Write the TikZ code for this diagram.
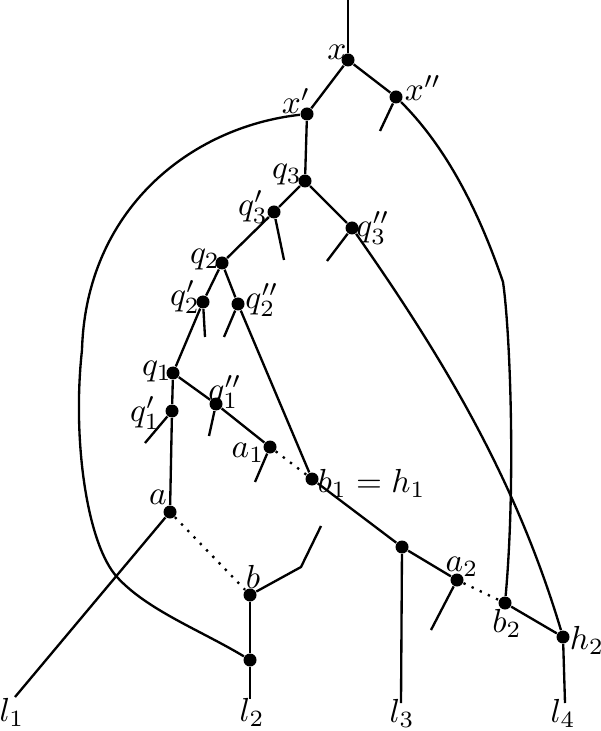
\documentclass[tikz,border=0pt]{standalone}
\begin{document}
\begin{tikzpicture}[x=0.3pt,y=-0.3pt,
  vtx/.style={circle,fill=black,inner sep=0pt,minimum size=3.9pt},
  edge/.style={line width=0.7pt},
  dotedge/.style={line width=0.7pt,dotted},
  lbl/.style={inner sep=0pt}]
\useasboundingbox (0,0) rectangle (600,731);
% vertices
\node[vtx] (x) at (348,60) {};
\node[vtx] (xp) at (307,114) {};
\node[vtx] (xpp) at (396,97) {};
\node[vtx] (q3) at (305,181) {};
\node[vtx] (q3p) at (274,212) {};
\node[vtx] (q3pp) at (352,228) {};
\node[vtx] (q2) at (222,263) {};
\node[vtx] (q2p) at (203,302) {};
\node[vtx] (q2pp) at (238,304) {};
\node[vtx] (q1) at (173,373) {};
\node[vtx] (q1p) at (172,411) {};
\node[vtx] (q1pp) at (216,404) {};
\node[vtx] (a1) at (270,447) {};
\node[vtx] (a) at (170,512) {};
\node[vtx] (b1) at (312,479) {};
\node[vtx] (b) at (250,595) {};
\node[vtx] (c) at (250,660) {};
\node[vtx] (d) at (402,547) {};
\node[vtx] (a2) at (457,580) {};
\node[vtx] (b2) at (505,603) {};
\node[vtx] (h2) at (563,637) {};
% free ends
\coordinate (top) at (348,0);
\coordinate (xppS) at (380,131);
\coordinate (q3pS) at (284,260);
\coordinate (q3ppS) at (327,261);
\coordinate (q2pS) at (205,337);
\coordinate (q2ppS) at (224,337);
\coordinate (q1pS) at (145,443);
\coordinate (q1ppS) at (209,436);
\coordinate (a1S) at (255,482);
\coordinate (a2S) at (431,630);
\coordinate (bK) at (301,567);
\coordinate (bS) at (321,526);
\coordinate (l1e) at (15,697);
\coordinate (l2e) at (250,699);
\coordinate (l3e) at (401,703);
\coordinate (l4e) at (565,703);
\coordinate (k1) at (503,282);
\coordinate (m1) at (82,350);
\coordinate (m2) at (117,577);
% edges
\draw[edge] (top) -- (x);
\draw[edge] (x) -- (xp);
\draw[edge] (x) -- (xpp);
\draw[edge] (xpp) -- (xppS);
\draw[edge] (xpp) .. controls (441,142) and (475,200) .. (k1)
                  .. controls (510,330) and (516,480) .. (b2);
\draw[edge] (xp) -- (q3);
\draw[edge] (q3) -- (q3p);
\draw[edge] (q3) -- (q3pp);
\draw[edge] (q3p) -- (q3pS);
\draw[edge] (q3pp) -- (q3ppS);
\draw[edge] (q3pp) .. controls (451,369) and (518,487) .. (h2);
\draw[edge] (q3p) -- (q2);
\draw[edge] (q2) -- (q2p);
\draw[edge] (q2) -- (q2pp);
\draw[edge] (q2p) -- (q2pS);
\draw[edge] (q2pp) -- (q2ppS);
\draw[edge] (q2p) -- (q1);
\draw[edge] (q2pp) -- (b1);
\draw[edge] (q1) -- (q1p);
\draw[edge] (q1) -- (q1pp);
\draw[edge] (q1p) -- (q1pS);
\draw[edge] (q1pp) -- (q1ppS);
\draw[edge] (q1pp) -- (a1);
\draw[edge] (a1) -- (a1S);
\draw[dotedge] (a1) -- (b1);
\draw[edge] (q1p) -- (a);
\draw[edge] (a) -- (l1e);
\draw[dotedge] (a) -- (b);
\draw[edge] (b) -- (bK) -- (bS);
\draw[edge] (b) -- (c);
\draw[edge] (c) -- (l2e);
\draw[edge] (b1) -- (d);
\draw[edge] (d) -- (l3e);
\draw[edge] (d) -- (a2);
\draw[edge] (a2) -- (a2S);
\draw[dotedge] (a2) -- (b2);
\draw[edge] (b2) -- (h2);
\draw[edge] (h2) -- (l4e);
\draw[edge] (xp) .. controls (190,127) and (86,210) .. (m1)
                 .. controls (72,440) and (87,544) .. (m2)
                 .. controls (147,610) and (200,630) .. (c);
% labels
\node[lbl] (Lx) at (337,52) {$x$};
\node[lbl] (Lxp) at (296,101) {$x'$};
\node[lbl] (Lxpp) at (423,88) {$x''$};
\node[lbl] (Lq3) at (287,175) {$q_3$};
\node[lbl] (Lq3p) at (253,207) {$q_3'$};
\node[lbl] (Lq3pp) at (373,228) {$q_3''$};
\node[lbl] (Lq2) at (205,260) {$q_2$};
\node[lbl] (Lq2p) at (185,297) {$q_2'$};
\node[lbl] (Lq2pp) at (262,300) {$q_2''$};
\node[lbl] (Lq1) at (157,372) {$q_1$};
\node[lbl] (Lq1p) at (145,413) {$q_1'$};
\node[lbl] (Lq1pp) at (225,392) {$q_1''$};
\node[lbl] (La1) at (248,453) {$a_1$};
\node[lbl] (La) at (158,497) {$a$};
\node[lbl] (Lb) at (253,577) {$b$};
\node[lbl,anchor=west] (Lb1) at (317,483) {$b_1=h_1$};
\node[lbl] (La2) at (462,567) {$a_2$};
\node[lbl] (Lb2) at (507,623) {$b_2$};
\node[lbl] (Lh2) at (587,640) {$h_2$};
\node[lbl] (Ll1) at (12,712) {$l_1$};
\node[lbl] (Ll2) at (252,712) {$l_2$};
\node[lbl] (Ll3) at (402,713) {$l_3$};
\node[lbl] (Ll4) at (563,713) {$l_4$};
\end{tikzpicture}
\end{document}
